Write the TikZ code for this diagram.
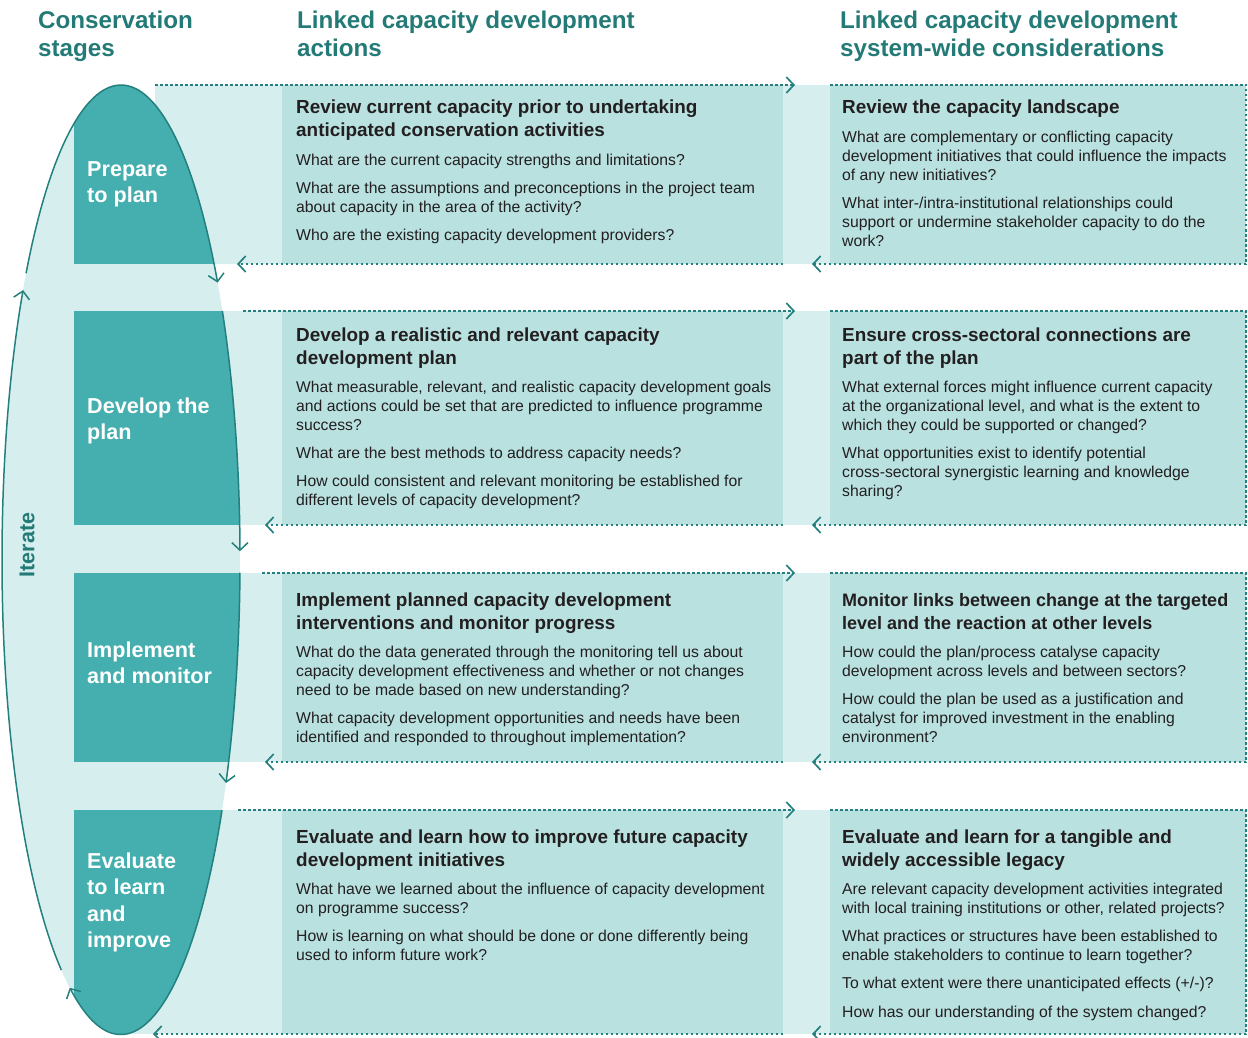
\documentclass[tikz,border=0pt]{standalone}
\usepackage{fontspec}
\setmainfont{Liberation Sans}
\usetikzlibrary{arrows.meta,calc}

\definecolor{bandc}{RGB}{214,238,238}
\definecolor{stagec}{RGB}{69,174,174}
\definecolor{qboxc}{RGB}{184,225,224}
\definecolor{linec}{RGB}{36,128,126}
\definecolor{headc}{RGB}{35,122,118}
\definecolor{textc}{RGB}{35,31,32}

% heading + questions of one cell
\newcommand{\celltext}[3]{%
  \begin{minipage}[t]{#1}\raggedright\parindent=0pt\parskip=9.3pt
  \fontsize{18.9pt}{23pt}\selectfont\bfseries #2\par
  \fontsize{15.75pt}{19pt}\selectfont\mdseries #3\end{minipage}}
% white stage label
\newcommand{\stagetext}[1]{%
  \begin{minipage}[t]{170pt}\raggedright
  \fontsize{21.6pt}{26.5pt}\selectfont\bfseries #1\end{minipage}}
% column heading
\newcommand{\coltext}[1]{%
  \begin{minipage}[t]{420pt}\raggedright
  \fontsize{24.2pt}{28pt}\selectfont\bfseries #1\end{minipage}}
% one stretch of the iteration loop
\newcommand{\looparc}[2]{%
  \draw[loopline] ($(E)+(#1:119 and 474.5)$)
    arc[start angle=#1, end angle=#2, x radius=119, y radius=474.5];}

\begin{document}
\begin{tikzpicture}[x=1pt,y=-1pt,
  band/.style={fill=bandc},
  stagebox/.style={fill=stagec},
  qbox/.style={fill=qboxc},
  flow/.style={draw=linec, line width=1.7pt, dash pattern=on 2.5pt off 2.5pt,
    -{Straight Barb[length=7.5pt,width=16pt]}},
  loopline/.style={draw=linec, line width=1.5pt,
    -{Straight Barb[length=7.5pt,width=16pt]}},
  txt/.style={inner sep=0pt, anchor=base west, text=textc},
  stagelabel/.style={inner sep=0pt, anchor=base west, text=white},
  colhead/.style={inner sep=0pt, anchor=base west, text=headc}]

\useasboundingbox (0,0) rectangle (1248,1038);

% light bands of the four stages
\fill[band] (155,85) rectangle (1246,264);
\fill[band] (121,311) rectangle (1246,525);
\fill[band] (121,573) rectangle (1246,762);
\fill[band] (121,810) rectangle (1246,1034);

% the iteration loop
\coordinate (E) at (121,559.5);
\fill[band] (E) ellipse [x radius=119, y radius=474.5];
\begin{scope}
  \clip (E) ellipse [x radius=119, y radius=474.5];
  \fill[stagebox] (74,85) rectangle (260,264);
  \fill[stagebox] (74,311) rectangle (260,525);
  \fill[stagebox] (74,573) rectangle (260,762);
  \fill[stagebox] (74,810) rectangle (260,1034);
\end{scope}

% question boxes
\foreach \T/\B in {85/264, 311/525, 573/762, 810/1034} {
  \fill[qbox] (282,\T) rectangle (783,\B);
  \fill[qbox] (830,\T) rectangle (1246,\B);
}

% dotted links between the two columns
\foreach \r/\T/\B/\s/\e in {1/85/264/155/237, 2/311/525/243/265,
                            3/573/762/262/265, 4/810/1034/238/153} {
  \coordinate (a\r) at (\s,\T);
  \coordinate (b\r) at (795,\T);
  \coordinate (c\r) at (830,\T);
  \coordinate (d\r) at (1246,\T);
  \coordinate (f\r) at (1246,\B);
  \coordinate (g\r) at (812,\B);
  \coordinate (h\r) at (783,\B);
  \coordinate (k\r) at (\e,\B);
  \draw[flow] (a\r) -- (b\r);
  \draw[flow] (c\r) -- (d\r) -- (f\r) -- (g\r);
  \draw[flow] (h\r) -- (k\r);
}

% arrows round the loop
\looparc{-142.9}{-35.7}
\looparc{-31.6}{-1}
\looparc{1.6}{28.1}
\looparc{31.9}{115.5}
\looparc{120.1}{214.6}

\node[rotate=90, text=headc, inner sep=0pt,
  font=\fontsize{21.5pt}{26pt}\selectfont\bfseries] (iterate) at (27,545) {Iterate};

% column headings
\node[colhead] (hstage) at (38,29) {\coltext{Conservation\\stages}};
\node[colhead] (hact) at (297,29) {\coltext{Linked capacity development\\actions}};
\node[colhead] (hsys) at (840,29) {\coltext{Linked capacity development\\system-wide considerations}};

% stage names
\node[stagelabel] (st1) at (87,176.5) {\stagetext{Prepare\\to plan}};
\node[stagelabel] (st2) at (87,413) {\stagetext{Develop the\\plan}};
\node[stagelabel] (st3) at (87,657) {\stagetext{Implement\\and monitor}};
\node[stagelabel] (st4) at (87,868) {\stagetext{Evaluate\\to learn\\and\\improve}};

% actions
\node[txt] (act1) at (296,114) {\celltext{540pt}{Review current capacity prior to undertaking\\anticipated conservation activities}{%
What are the current capacity strengths and limitations?\par
What are the assumptions and preconceptions in the project team\\about capacity in the area of the activity?\par
Who are the existing capacity development providers?}};

\node[txt] (act2) at (296,341) {\celltext{540pt}{Develop a realistic and relevant capacity\\development plan}{%
{\fontsize{15.6pt}{19pt}\selectfont What measurable, relevant, and realistic capacity development goals}\\and actions could be set that are predicted to influence programme\\success?\par
What are the best methods to address capacity needs?\par
How could consistent and relevant monitoring be established for\\different levels of capacity development?}};

\node[txt] (act3) at (296,606) {\celltext{540pt}{Implement planned capacity development\\interventions and monitor progress}{%
What do the data generated through the monitoring tell us about\\capacity development effectiveness and whether or not changes\\need to be made based on new understanding?\par
What capacity development opportunities and needs have been\\identified and responded to throughout implementation?}};

\node[txt] (act4) at (296,843) {\celltext{540pt}{Evaluate and learn how to improve future capacity\\development initiatives}{%
What have we learned about the influence of capacity development\\on programme success?\par
How is learning on what should be done or done differently being\\used to inform future work?}};

% system-wide considerations
\node[txt] (sys1) at (842,114) {\celltext{460pt}{Review the capacity landscape}{%
What are complementary or conflicting capacity\\development initiatives that could influence the impacts\\of any new initiatives?\par
What inter-/intra-institutional relationships could\\support or undermine stakeholder capacity to do the\\work?}};

\node[txt] (sys2) at (842,341) {\celltext{460pt}{Ensure cross-sectoral connections are\\part of the plan}{%
What external forces might influence current capacity\\at the organizational level, and what is the extent to\\which they could be supported or changed?\par
What opportunities exist to identify potential\\cross-sectoral synergistic learning and knowledge\\sharing?}};

\node[txt] (sys3) at (842,606) {\celltext{460pt}{\fontsize{18pt}{23pt}\selectfont Monitor links between change at the targeted\\level and the reaction at other levels}{%
How could the plan/process catalyse capacity\\development across levels and between sectors?\par
How could the plan be used as a justification and\\catalyst for improved investment in the enabling\\environment?}};

\node[txt] (sys4) at (842,843) {\celltext{460pt}{Evaluate and learn for a tangible and\\widely accessible legacy}{%
Are relevant capacity development activities integrated\\with local training institutions or other, related projects?\par
What practices or structures have been established to\\enable stakeholders to continue to learn together?\par
To what extent were there unanticipated effects (+/-)?\par
How has our understanding of the system changed?}};

\end{tikzpicture}
\end{document}
